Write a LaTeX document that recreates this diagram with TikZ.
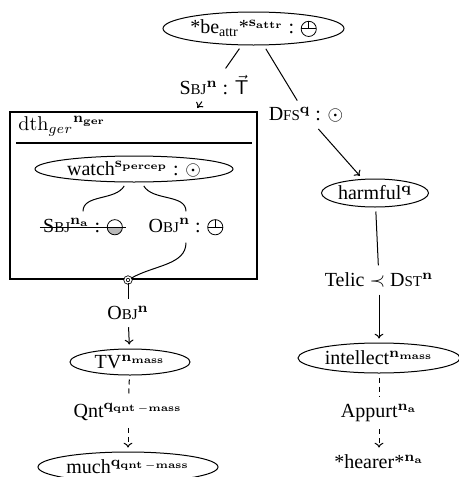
\documentclass[tikz,border=0pt]{standalone}
\usepackage[no-math]{fontspec}
\setmainfont{Liberation Serif}
\usetikzlibrary{shapes.geometric,arrows.meta}

\newcommand{\smc}[1]{{\fontsize{7.5}{9}\selectfont #1}}
\newcommand{\bsup}[1]{$^{\mathbf{#1}}$}
\newcommand{\upcirc}{\tikz[baseline={(0,-0.25em)},line width=0.4pt]{\draw (0,0) circle (0.38em); \draw (-0.38em,0)--(0.38em,0) (0,0)--(0,0.38em);}}
\newcommand{\halfcirc}{\tikz[baseline={(0,-0.25em)},line width=0.4pt]{\fill[gray!55] (-0.38em,0) arc (180:360:0.38em) -- cycle; \draw (0,0) circle (0.38em); \draw (-0.38em,0)--(0.38em,0);}}

\begin{document}
\begin{tikzpicture}[x=0.5pt,y=-0.5pt,>={To[length=2.4pt,width=4.4pt]},
  oval/.style={draw,ellipse,inner sep=0pt,line width=0.5pt},
  lbl/.style={inner sep=1.5pt},
  edge/.style={line width=0.5pt,shorten <=2pt,shorten >=2pt},
  brk/.style={dash pattern=on 2.5pt off 2pt}]
\useasboundingbox (0,0) rectangle (459,477);
\pgfmathsetmacro{\lx}{128}
\pgfmathsetmacro{\rx}{379}
% top
\node[oval,minimum width=90.5pt,minimum height=16.5pt](be) at (253.5,28.5){*be\textsubscript{attr}*\bsup{s_{attr}} : \upcirc};
\node[lbl](sbjl) at (214,85){S\smc{BJ}\bsup{n} : $\vec{\mathsf{T}}$};
\node[lbl](dfsl) at (306,115){D\smc{FS}\bsup{q} : $\odot$};
% gerund box
\node[draw,line width=0.8pt,minimum width=123.5pt,minimum height=83.5pt,inner sep=0pt](dth) at (133.5,195.5){};
\node[lbl,anchor=west](dthhd) at (15,126){$\mathrm{dth}_{ger}{}^{\mathbf{n_{ger}}}$};
\draw[line width=1.2pt](16,143)--(252,143);
\node[oval,minimum width=99pt,minimum height=13pt](watch) at (134,169){watch\bsup{s_{percep}} : $\odot$};
\node[lbl](sbjw) at (83,227){S\smc{BJ}\bsup{n_a} : \halfcirc};
\node[lbl](objw) at (186,227){O\smc{BJ}\bsup{n} : \upcirc};
\draw[line width=0.7pt]([yshift=2.4pt]sbjw.base west)--([yshift=2.4pt]sbjw.base east);
\node[circle,draw,double,double distance=0.7pt,fill=white,minimum size=3pt,inner sep=0pt](plug) at (\lx,280){};
% left column
\node[lbl](objl) at (\lx,313){O\smc{BJ}\bsup{n}};
\node[oval,minimum width=60pt,minimum height=13pt](tv) at (130,362){TV\bsup{n_{mass}}};
\node[lbl](qntl) at (\lx,412){Qnt\bsup{q_{qnt\,{-}mass}}};
\node[oval,minimum width=90pt,minimum height=15pt](much) at (\lx,467){much\bsup{q_{qnt\,{-}mass}}};
% right column
\node[oval,minimum width=53.5pt,minimum height=14pt](harm) at (375,193){harmful\bsup{q}};
\node[lbl](telic) at (\rx,280){Telic $\prec$ D\smc{ST}\bsup{n}};
\node[oval,minimum width=81pt,minimum height=15pt](intel) at (\rx,358){intellect\bsup{n_{mass}}};
\node[lbl](appl) at (\rx,413){Appurt\bsup{n_a}};
\node[lbl](hear) at (\rx,462){*hearer*\bsup{n_a}};
% connectors
\draw[edge](be)--(sbjl);
\draw[edge,->](sbjl)--(dth);
\draw[edge](be)--(dfsl);
\draw[edge,->](dfsl)--(harm);
\draw[edge](watch) to[out=-120,in=90](sbjw);
\draw[edge](watch) to[out=-60,in=90](objw);
\draw[edge,shorten >=0pt](objw) to[out=-90,in=30](plug);
\draw[edge,shorten <=0pt](plug)--(objl);
\draw[edge,->](objl)--(tv);
\draw[edge,brk](tv)--(qntl);
\draw[edge,brk,->](qntl)--(much);
\draw[edge](harm)--(telic);
\draw[edge,->](telic)--(intel);
\draw[edge,brk](intel)--(appl);
\draw[edge,brk,->](appl)--(hear);
\end{tikzpicture}
\end{document}
